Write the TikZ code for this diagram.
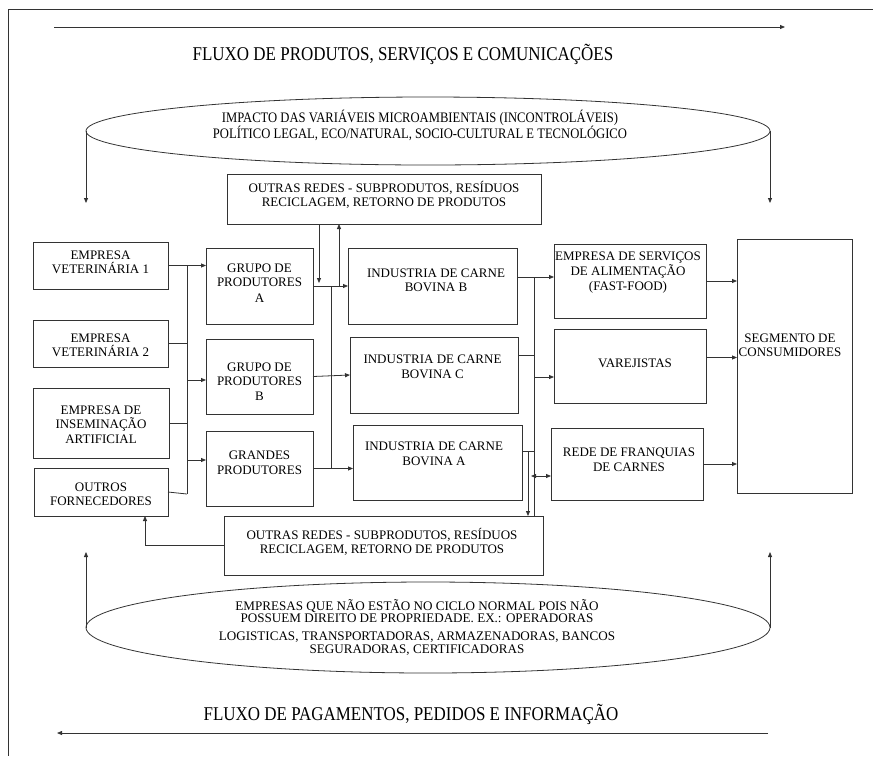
\documentclass[tikz,border=0pt]{standalone}
\usepackage{fontspec}
\setmainfont{Liberation Serif}
\newfontfamily\condfont[FakeStretch=0.87]{Liberation Serif}
\usetikzlibrary{arrows.meta,shapes.geometric}
\begin{document}
\begin{tikzpicture}[x=1pt,y=-1pt,
  ln/.style={line width=0.8pt, draw=black!80},
  tip/.tip={Triangle[length=5pt,width=4pt]},
  arr/.style={ln, -tip},
  box/.style={ln, rectangle, inner sep=0pt, outer sep=0pt},
  ell/.style={ln, ellipse, inner sep=0pt, outer sep=0pt},
  txt/.style={align=center, inner sep=0pt, font=\fontsize{13}{14.5}\selectfont},
  ttl/.style={inner sep=0pt, anchor=base, font=\condfont\fontsize{19.5}{22}\selectfont},
]
\useasboundingbox (0,0) rectangle (873,756);
% frame
\draw[line width=1pt, black!80] (873,9) -- (8,9) -- (8,756);

% titles and flow arrows
\coordinate (f1a) at (54,27); \coordinate (f1b) at (785,27);
\draw[arr] (f1a) -- (f1b);
\node[ttl] (t1) at (403,60) {FLUXO DE PRODUTOS, SERVIÇOS E COMUNICAÇÕES};
\node[ttl] (t2) at (411,720) {FLUXO DE PAGAMENTOS, PEDIDOS E INFORMAÇÃO};
\coordinate (f2a) at (768,733); \coordinate (f2b) at (57,733);
\draw[arr] (f2a) -- (f2b);

% ellipses
\node[ell, minimum width=684, minimum height=68] (etop) at (428,131) {};
\node[txt, font=\condfont\fontsize{14.5}{15}\selectfont] (tetop) at (420,125.5)
  {IMPACTO DAS VARIÁVEIS MICROAMBIENTAIS (INCONTROLÁVEIS)\\POLÍTICO LEGAL, ECO/NATURAL, SOCIO-CULTURAL E TECNOLÓGICO};
\node[ell, minimum width=684, minimum height=91] (ebot) at (428,627.5) {};
\node[txt, font=\fontsize{13.1}{12.5}\selectfont] (tebot) at (417,627.5)
  {EMPRESAS QUE NÃO ESTÃO NO CICLO NORMAL POIS NÃO\\POSSUEM DIREITO DE PROPRIEDADE. EX.: OPERADORAS\\[5.5pt]LOGISTICAS, TRANSPORTADORAS, ARMAZENADORAS, BANCOS\\SEGURADORAS, CERTIFICADORAS};

\coordinate (etl) at (86,203); \coordinate (etr) at (770,203);
\draw[arr] (etop.west) -- (etl);
\draw[arr] (etop.east) -- (etr);
\coordinate (ebl) at (86,552); \coordinate (ebr) at (770,552);
\draw[arr] (ebot.west) -- (ebl);
\draw[arr] (ebot.east) -- (ebr);

% boxes
\node[box, minimum width=314, minimum height=50] (otop) at (384,199) {};
\node[txt] (totop) at (384,195) {OUTRAS REDES - SUBPRODUTOS, RESÍDUOS\\RECICLAGEM, RETORNO DE PRODUTOS};
\node[box, minimum width=319, minimum height=59] (obot) at (383.5,545.5) {};
\node[txt] (tobot) at (382,542) {OUTRAS REDES - SUBPRODUTOS, RESÍDUOS\\RECICLAGEM, RETORNO DE PRODUTOS};

\node[box, minimum width=135, minimum height=47] (ev1) at (100.5,265.5) {};
\node[txt] (tev1) at (100.5,262.5) {EMPRESA\\VETERINÁRIA 1};
\node[box, minimum width=135, minimum height=47] (ev2) at (100.5,343.5) {};
\node[txt] (tev2) at (100.5,345.5) {EMPRESA\\VETERINÁRIA 2};
\node[box, minimum width=136, minimum height=70] (insem) at (101,423) {};
\node[txt] (tinsem) at (101,424.5) {EMPRESA DE\\INSEMINAÇÃO\\ARTIFICIAL};
\node[box, minimum width=134, minimum height=48] (outros) at (101,492) {};
\node[txt] (toutros) at (101,494.5) {OUTROS\\FORNECEDORES};

\node[box, minimum width=107, minimum height=76] (gA) at (259.5,286) {};
\node[txt] (tgA) at (259.5,283) {GRUPO DE\\PRODUTORES\\[1.5pt]A};
\node[box, minimum width=107, minimum height=75] (gB) at (259.5,376.5) {};
\node[txt] (tgB) at (259.5,381.5) {GRUPO DE\\PRODUTORES\\B};
\node[box, minimum width=107, minimum height=75] (gG) at (259.5,468.5) {};
\node[txt] (tgG) at (259.5,462.5) {GRANDES\\PRODUTORES};

\node[box, minimum width=169, minimum height=76] (iB) at (432.5,286) {};
\node[txt] (tiB) at (436,280.5) {INDUSTRIA DE CARNE\\BOVINA B};
\node[box, minimum width=168, minimum height=76] (iC) at (434,375) {};
\node[txt] (tiC) at (432.5,367) {INDUSTRIA DE CARNE\\BOVINA C};
\node[box, minimum width=169, minimum height=75] (iA) at (437.5,462.5) {};
\node[txt] (tiA) at (434,454) {INDUSTRIA DE CARNE\\BOVINA A};

\node[box, minimum width=152, minimum height=74] (ff) at (630,281) {};
\node[txt] (tff) at (628,273) {EMPRESA DE SERVIÇOS\\DE ALIMENTAÇÃO\\[1pt](FAST-FOOD)};
\node[box, minimum width=152, minimum height=74] (var) at (630,366) {};
\node[txt] (tvar) at (635,363) {VAREJISTAS};
\node[box, minimum width=152, minimum height=72] (rede) at (627,464) {};
\node[txt] (trede) at (629,460) {REDE DE FRANQUIAS\\DE CARNES};
\node[box, minimum width=115, minimum height=254] (seg) at (794.5,366) {};
\node[txt] (tseg) at (790,345.5) {SEGMENTO DE\\CONSUMIDORES};

% left connectors
\coordinate (lb1) at (187,265.5); \coordinate (lb2) at (187,494);
\draw[arr] (ev1.east) -- (ev1.east -| gA.west);
\draw[ln] (lb1) -- (lb2);
\draw[ln] (ev2.east) -- (ev2.east -| lb1);
\draw[ln] (insem.east) -- (insem.east -| lb1);
\draw[ln] (outros.east) -- (lb2);
\coordinate (lgB) at (187,380); \draw[arr] (lgB) -- (lgB -| gB.west);
\coordinate (lgG) at (187,460); \draw[arr] (lgG) -- (lgG -| gG.west);

% middle connectors
\draw[arr] (gA.east) -- (iB.west);
\coordinate (mdn) at (319,283); \draw[arr] (otop.south -| mdn) -- (mdn);
\coordinate (mup) at (339,286); \draw[arr] (mup) -- (mup |- otop.south);
\coordinate (mb1) at (331,286); \coordinate (mb2) at (331,469);
\draw[ln] (mb1) -- (mb2);
\draw[arr] (gB.east) -- (iC.west);
\draw[arr] (gG.east) -- (gG.east -| iA.west);

% right connectors
\coordinate (rb1) at (534,277);
\draw[ln] (iB.east |- rb1) -- (rb1);
\draw[arr] (rb1) -- (rb1 -| ff.west);
\draw[ln] (rb1) -- (rb1 |- obot.north);
\coordinate (rc) at (534,355); \draw[ln] (iC.east |- rc) -- (rc);
\coordinate (rv) at (534,377); \draw[arr] (rv) -- (rv -| var.west);
\coordinate (ra) at (534,451); \draw[ln] (iA.east |- ra) -- (ra);
\coordinate (rad) at (528,451); \draw[arr] (rad) -- (rad |- obot.north);
\coordinate (rr) at (531,476); \draw[ln, tip-tip] (rr) -- (rr -| rede.west);

\draw[arr] (ff.east) -- (ff.east -| seg.west);
\coordinate (vs) at (706,357.5); \draw[arr] (var.east |- vs) -- (vs -| seg.west);
\draw[arr] (rede.east) -- (rede.east -| seg.west);

% bottom return
\coordinate (bo) at (145,545.5);
\draw[arr] (obot.west) -- (bo) -- (bo |- outros.south);
\end{tikzpicture}
\end{document}
